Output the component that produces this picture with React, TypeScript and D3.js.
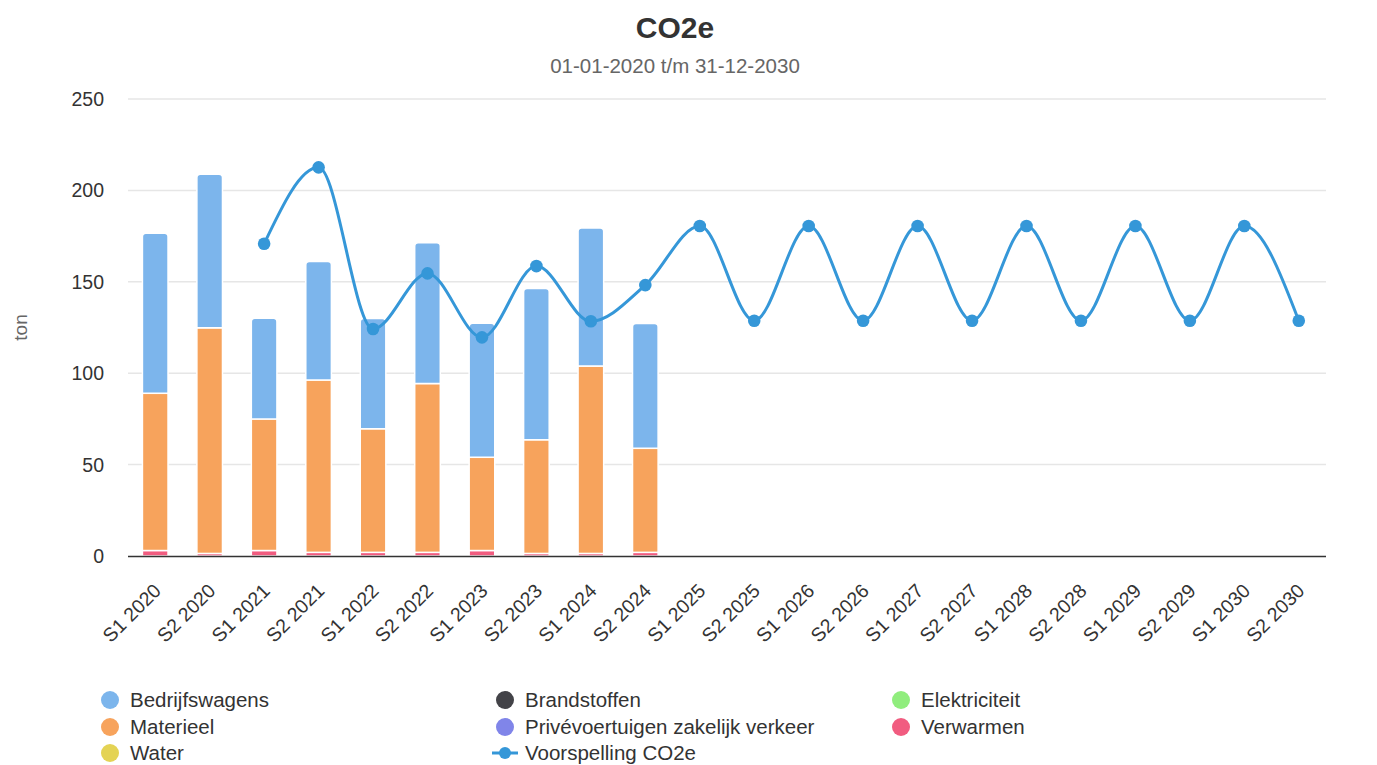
import React from "react";
import * as d3 from "d3";

const categories = [
  "S1 2020", "S2 2020", "S1 2021", "S2 2021", "S1 2022", "S2 2022",
  "S1 2023", "S2 2023", "S1 2024", "S2 2024", "S1 2025", "S2 2025",
  "S1 2026", "S2 2026", "S1 2027", "S2 2027", "S1 2028", "S2 2028",
  "S1 2029", "S2 2029", "S1 2030", "S2 2030",
];

const bedrijfswagens = [87.5, 84, 55, 64.8, 60.3, 77, 73.3, 82.7, 75.5, 68.3, 0, 0, 0, 0, 0, 0, 0, 0, 0, 0, 0, 0];
const brandstoffen = [0, 0, 0, 0, 0, 0, 0, 0, 0, 0, 0, 0, 0, 0, 0, 0, 0, 0, 0, 0, 0, 0];
const elektriciteit = [0, 0, 0, 0, 0, 0, 0, 0, 0, 0, 0, 0, 0, 0, 0, 0, 0, 0, 0, 0, 0, 0];
const materieel = [86, 123.4, 72, 94.3, 67.6, 92.3, 51, 62.2, 102.5, 56.9, 0, 0, 0, 0, 0, 0, 0, 0, 0, 0, 0, 0];
const privevoertuigen = [0, 0, 0, 0, 0, 0, 0, 0, 0, 0, 0, 0, 0, 0, 0, 0, 0, 0, 0, 0, 0, 0];
const verwarmen = [3, 1.4, 3, 2, 2, 2, 3, 1.4, 1.4, 2, 0, 0, 0, 0, 0, 0, 0, 0, 0, 0, 0, 0];
const water = [0, 0, 0, 0, 0, 0, 0, 0, 0, 0, 0, 0, 0, 0, 0, 0, 0, 0, 0, 0, 0, 0];
const voorspelling: (number | null)[] = [
  null, null, 170.8, 212.6, 124.2, 154.6, 119.6, 158.6, 128.4, 148.2, 180.5, 128.7,
  180.5, 128.7, 180.5, 128.7, 180.5, 128.7, 180.5, 128.7, 180.5, 128.7,
];

const yTicks = [0, 50, 100, 150, 200, 250];

const barSeries = [
  { name: "Bedrijfswagens", values: bedrijfswagens, color: "#7cb5ec" },
  { name: "Brandstoffen", values: brandstoffen, color: "#434348" },
  { name: "Elektriciteit", values: elektriciteit, color: "#90ed7d" },
  { name: "Materieel", values: materieel, color: "#f7a35c" },
  { name: "Privévoertuigen zakelijk verkeer", values: privevoertuigen, color: "#8085e9" },
  { name: "Verwarmen", values: verwarmen, color: "#f15c80" },
  { name: "Water", values: water, color: "#e4d354" },
];
const lineColor = "#3597d8";

const legendItems = [
  { name: "Bedrijfswagens", color: "#7cb5ec", type: "dot" },
  { name: "Brandstoffen", color: "#434348", type: "dot" },
  { name: "Elektriciteit", color: "#90ed7d", type: "dot" },
  { name: "Materieel", color: "#f7a35c", type: "dot" },
  { name: "Privévoertuigen zakelijk verkeer", color: "#8085e9", type: "dot" },
  { name: "Verwarmen", color: "#f15c80", type: "dot" },
  { name: "Water", color: "#e4d354", type: "dot" },
  { name: "Voorspelling CO2e", color: lineColor, type: "line" },
];

const W = 1377;
const H = 765;
const FONT = '"Liberation Sans", Arial, Helvetica, sans-serif';
const plot = { left: 128, right: 1326, top: 99, bottom: 556 };
const titleX = 675;

export default function App() {
  const x = d3.scaleBand<string>().domain(categories).range([plot.left, plot.right]).paddingInner(0).paddingOuter(0);
  const y = d3.scaleLinear().domain([0, 250]).range([plot.bottom, plot.top]);
  const bw = x.bandwidth() * 0.47;

  // stack bottom-up: reverse of series order (first series on top)
  const stackOrder = [...barSeries].reverse();
  const rows = categories.map((c, i) => {
    const r: Record<string, number> = {};
    stackOrder.forEach((s) => (r[s.name] = s.values[i]));
    return r;
  });
  const stacked = d3.stack<Record<string, number>>().keys(stackOrder.map((s) => s.name))(rows);

  const topKey = categories.map((c, i) => {
    let k: string | null = null;
    stackOrder.forEach((s) => {
      if (s.values[i] > 0) k = s.name;
    });
    return k;
  });

  const line = d3
    .line<number | null>()
    .defined((d) => d != null)
    .x((d, i) => (x(categories[i]) as number) + x.bandwidth() / 2)
    .y((d) => y(d as number))
    .curve(d3.curveMonotoneX);

  const roundedTop = (x0: number, y0: number, w: number, h: number, r: number) => {
    const rr = Math.min(r, h / 2, w / 2);
    return `M${x0},${y0 + h}V${y0 + rr}Q${x0},${y0} ${x0 + rr},${y0}H${x0 + w - rr}Q${x0 + w},${y0} ${x0 + w},${y0 + rr}V${y0 + h}Z`;
  };

  const colX = [110, 505, 901];
  const rowY = [700, 727, 753];

  return (
    <svg width={W} height={H} style={{ display: "block", position: "absolute", left: 0, top: 0 }} fontFamily={FONT}>
      <rect width={W} height={H} fill="#ffffff" />
      <text x={titleX} y={38} textAnchor="middle" fontSize={30} fontWeight="bold" fill="#333333">CO2e</text>
      <text x={titleX} y={73} textAnchor="middle" fontSize={20.5} fill="#666666">01-01-2020 t/m 31-12-2030</text>

      {yTicks.map((t) => (
        <g key={t}>
          {t !== 0 && (
            <line x1={plot.left} x2={plot.right} y1={y(t)} y2={y(t)} stroke="#e6e6e6" strokeWidth={1.5} />
          )}
          <text x={104} y={y(t) + 7} textAnchor="end" fontSize={19.5} fill="#333333">{t}</text>
        </g>
      ))}
      <text transform={`translate(27,${(plot.top + plot.bottom) / 2}) rotate(-90)`} textAnchor="middle" fontSize={19} fill="#666666">ton</text>

      {stacked.map((layer) => {
        const s = barSeries.find((b) => b.name === layer.key)!;
        return (
          <g key={layer.key}>
            {layer.map((d, i) => {
              const h = y(d[0]) - y(d[1]);
              if (h <= 0) return null;
              const x0 = (x(categories[i]) as number) + (x.bandwidth() - bw) / 2;
              const isTop = topKey[i] === layer.key;
              return isTop ? (
                <path key={i} d={roundedTop(x0, y(d[1]), bw, h, 3.5)} fill={s.color} stroke="#ffffff" strokeWidth={1.5} />
              ) : (
                <rect key={i} x={x0} y={y(d[1])} width={bw} height={h} fill={s.color} stroke="#ffffff" strokeWidth={1.5} />
              );
            })}
          </g>
        );
      })}

      <line x1={plot.left} x2={plot.right} y1={plot.bottom + 0.5} y2={plot.bottom + 0.5} stroke="#333333" strokeWidth={1.5} />

      <path d={line(voorspelling) || ""} fill="none" stroke={lineColor} strokeWidth={3} />
      {voorspelling.map((v, i) =>
        v == null ? null : (
          <circle key={i} cx={(x(categories[i]) as number) + x.bandwidth() / 2} cy={y(v)} r={6.3} fill={lineColor} />
        )
      )}

      {categories.map((c) => {
        const cx = (x(c) as number) + x.bandwidth() / 2;
        return (
          <text key={c} transform={`translate(${cx + 7},${plot.bottom + 36}) rotate(-45)`} textAnchor="end" fontSize={19.5} fill="#333333">{c}</text>
        );
      })}

      {legendItems.map((it, i) => {
        const col = i % 3;
        const row = Math.floor(i / 3);
        const cx = colX[col];
        const cy = rowY[row];
        return (
          <g key={it.name}>
            {it.type === "dot" ? (
              <circle cx={cx} cy={cy} r={9} fill={it.color} />
            ) : (
              <g>
                <line x1={cx - 13} x2={cx + 13} y1={cy} y2={cy} stroke={it.color} strokeWidth={3} />
                <circle cx={cx} cy={cy} r={6} fill={it.color} />
              </g>
            )}
            <text x={cx + 20} y={cy + 7} fontSize={20.5} fill="#333333">{it.name}</text>
          </g>
        );
      })}
    </svg>
  );
}
